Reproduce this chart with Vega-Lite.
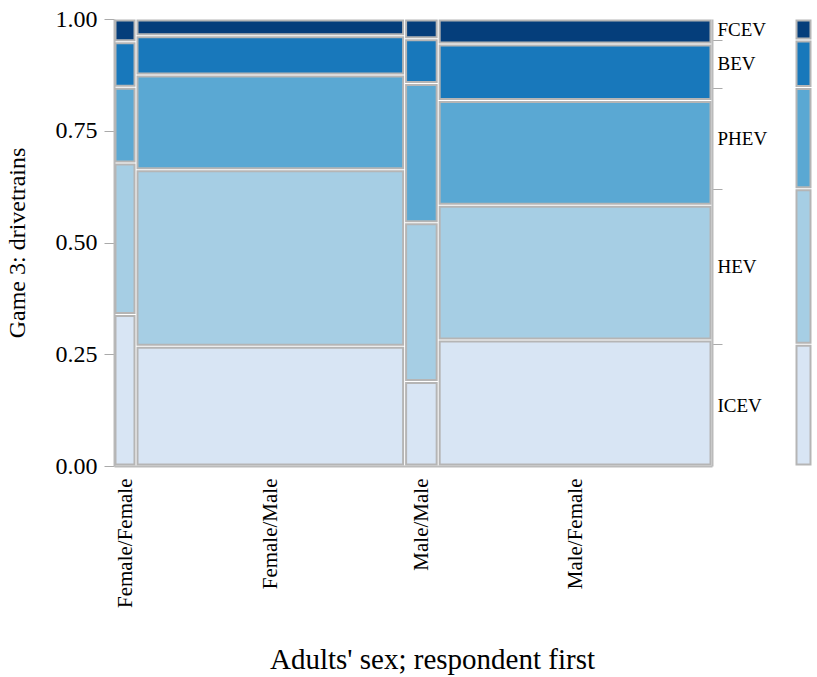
{
  "$schema": "https://vega.github.io/schema/vega-lite/v6.json",
  "background": "white",
  "padding": {"left": 5, "top": 7, "right": 5, "bottom": 5},
  "bounds": "flush",
  "spacing": 83,
  "config": {
    "view": {"stroke": null},
    "font": "Liberation Serif",
    "axis": {"labelColor": "black", "titleColor": "black", "titleFontWeight": "normal", "grid": false, "tickColor": "#aaaaaa", "domainColor": "#bbbbbb", "domainWidth": 2}
  },
  "datasets": {
    "cells": [
      {"sex": "Female/Female", "drivetrain": "ICEV", "n": 20},
      {"sex": "Female/Female", "drivetrain": "HEV", "n": 20},
      {"sex": "Female/Female", "drivetrain": "PHEV", "n": 10},
      {"sex": "Female/Female", "drivetrain": "BEV", "n": 6},
      {"sex": "Female/Female", "drivetrain": "FCEV", "n": 3},
      {"sex": "Female/Male", "drivetrain": "ICEV", "n": 193},
      {"sex": "Female/Male", "drivetrain": "HEV", "n": 284},
      {"sex": "Female/Male", "drivetrain": "PHEV", "n": 153},
      {"sex": "Female/Male", "drivetrain": "BEV", "n": 63},
      {"sex": "Female/Male", "drivetrain": "FCEV", "n": 27},
      {"sex": "Male/Male", "drivetrain": "ICEV", "n": 17},
      {"sex": "Male/Male", "drivetrain": "HEV", "n": 32},
      {"sex": "Male/Male", "drivetrain": "PHEV", "n": 28},
      {"sex": "Male/Male", "drivetrain": "BEV", "n": 9},
      {"sex": "Male/Male", "drivetrain": "FCEV", "n": 4},
      {"sex": "Male/Female", "drivetrain": "ICEV", "n": 207},
      {"sex": "Male/Female", "drivetrain": "HEV", "n": 221},
      {"sex": "Male/Female", "drivetrain": "PHEV", "n": 172},
      {"sex": "Male/Female", "drivetrain": "BEV", "n": 93},
      {"sex": "Male/Female", "drivetrain": "FCEV", "n": 41}
    ]
  },
  "hconcat": [
    {
      "width": 598,
      "height": 447,
      "data": {"name": "cells"},
      "transform": [
        {"calculate": "indexof(['Female/Female','Female/Male','Male/Male','Male/Female'], datum.sex)", "as": "sex_rank"},
        {"calculate": "indexof(['ICEV','HEV','PHEV','BEV','FCEV'], datum.drivetrain)", "as": "dt_rank"},
        {"stack": "n", "groupby": [], "offset": "normalize", "sort": [{"field": "sex_rank", "order": "ascending"}, {"field": "dt_rank", "order": "ascending"}], "as": ["sx0", "sx1"]},
        {"window": [{"op": "min", "field": "sx0", "as": "x0"}, {"op": "max", "field": "sx1", "as": "x1"}], "groupby": ["sex"], "frame": [null, null]},
        {"stack": "n", "groupby": ["sex"], "offset": "normalize", "sort": [{"field": "dt_rank", "order": "ascending"}], "as": ["y0", "y1"]}
      ],
      "layer": [
        {
          "mark": {"type": "rect", "stroke": "#b5b5b5", "strokeWidth": 2, "xOffset": 1.5, "x2Offset": -1.5, "yOffset": -1.5, "y2Offset": 1.5},
          "encoding": {
            "x": {
              "field": "x0", "type": "quantitative",
              "scale": {"domain": [0, 1], "nice": false, "zero": false},
              "axis": {
                "values": [0.0184, 0.2614, 0.514, 0.7711],
                "labelExpr": "datum.value < 0.1 ? 'Female/Female' : datum.value < 0.4 ? 'Female/Male' : datum.value < 0.6 ? 'Male/Male' : 'Male/Female'",
                "labelAngle": 270, "labelAlign": "right", "labelBaseline": "middle",
                "labelFontSize": 21, "labelPadding": 12, "ticks": false, "labelFlush": false, "labelOverlap": false,
                "title": "Adults' sex; respondent first", "titleFontSize": 29, "titlePadding": 38, "titleX": 318
              }
            },
            "x2": {"field": "x1"},
            "y": {
              "field": "y0", "type": "quantitative",
              "scale": {"domain": [0, 1], "nice": false},
              "axis": {
                "values": [0, 0.25, 0.5, 0.75, 1], "format": ".2f",
                "labelFontSize": 24, "labelPadding": 7, "tickSize": 10, "labelFlush": false,
                "title": "Game 3: drivetrains", "titleFontSize": 24, "titlePadding": 26
              }
            },
            "y2": {"field": "y1"},
            "color": {
              "field": "drivetrain", "type": "nominal",
              "scale": {"domain": ["ICEV", "HEV", "PHEV", "BEV", "FCEV"], "range": ["#d8e5f4", "#a6cee4", "#5aa8d3", "#1878bb", "#053e7b"]},
              "legend": null
            }
          }
        },
        {
          "mark": {"type": "rule", "opacity": 0},
          "encoding": {
            "y": {
              "field": "y0", "type": "quantitative",
              "scale": {"domain": [0, 1], "nice": false},
              "axis": {
                "orient": "right", "title": null,
                "values": [0.2726, 0.6201, 0.8465, 0.9532, 0.1363, 0.4464, 0.7333, 0.8999, 0.9766],
                "labelExpr": "datum.value == 0.1363 ? 'ICEV' : datum.value == 0.4464 ? 'HEV' : datum.value == 0.7333 ? 'PHEV' : datum.value == 0.8999 ? 'BEV' : datum.value == 0.9766 ? 'FCEV' : ''",
                "tickOpacity": {"condition": {"test": "indexof([0.2726, 0.6201, 0.8465, 0.9532], datum.value) >= 0", "value": 1}, "value": 0},
                "labelFontSize": 19, "tickSize": 10, "labelPadding": -5, "labelOverlap": false, "labelFlush": false
              }
            }
          }
        }
      ],
      "resolve": {"scale": {"y": "independent"}, "axis": {"y": "independent"}}
    },
    {
      "width": 17,
      "height": 447,
      "data": {"name": "cells"},
      "transform": [
        {"aggregate": [{"op": "sum", "field": "n", "as": "n"}], "groupby": ["drivetrain"]},
        {"calculate": "indexof(['ICEV','HEV','PHEV','BEV','FCEV'], datum.drivetrain)", "as": "dt_rank"},
        {"stack": "n", "groupby": [], "offset": "normalize", "sort": [{"field": "dt_rank", "order": "ascending"}], "as": ["y0", "y1"]}
      ],
      "mark": {"type": "rect", "stroke": "#b5b5b5", "strokeWidth": 2, "xOffset": 1.5, "x2Offset": -1.5, "yOffset": -1.5, "y2Offset": 1.5},
      "encoding": {
        "x": {"datum": 0, "type": "quantitative", "scale": {"domain": [0, 1], "nice": false, "zero": false}, "axis": null},
        "x2": {"datum": 1},
        "y": {"field": "y0", "type": "quantitative", "scale": {"domain": [0, 1], "nice": false}, "axis": null},
        "y2": {"field": "y1"},
        "color": {
          "field": "drivetrain", "type": "nominal",
          "scale": {"domain": ["ICEV", "HEV", "PHEV", "BEV", "FCEV"], "range": ["#d8e5f4", "#a6cee4", "#5aa8d3", "#1878bb", "#053e7b"]},
          "legend": null
        }
      }
    }
  ]
}
